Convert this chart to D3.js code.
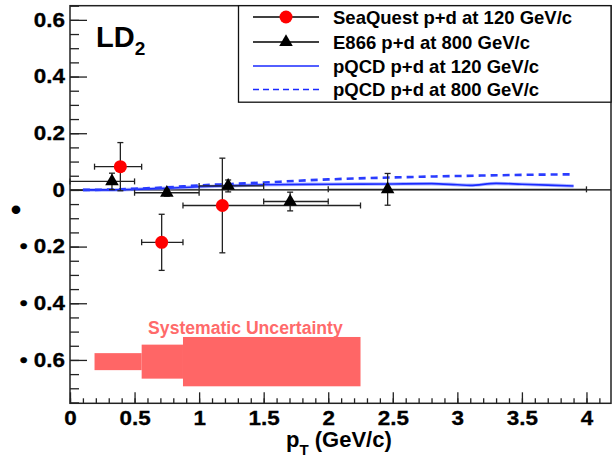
<!DOCTYPE html>
<html>
<head>
<meta charset="utf-8">
<script src="https://cdn.jsdelivr.net/npm/d3@7"></script>
<style>
  body { margin: 0; background: #fff; }
  svg { display: block; font-family: "Liberation Sans", Arial, sans-serif; }
</style>
</head>
<body>
<div id="chart"></div>
<script>
// SeaQuest p+d at 120 GeV/c
const seaX = [0.39, 0.71, 1.18];
const seaY = [0.082, -0.185, -0.055];
const seaXlo = [0.19, 0.555, 0.875];
const seaXhi = [0.555, 0.875, 2.25];
const seaErr = [0.085, 0.099, 0.167];

// E866 p+d at 800 GeV/c
const e866X = [0.325, 0.75, 1.225, 1.705, 2.46];
const e866Y = [0.03, -0.01, 0.014, -0.041, 0.002];
const e866Xlo = [0, 0.5, 1.0, 1.5, 2.0];
const e866Xhi = [0.5, 1.0, 1.5, 2.0, 4.0];
const e866Err = [0.029, 0.012, 0.021, 0.033, 0.056];

// pQCD curves
const qcd120X = [0.1, 0.3, 0.5, 0.75, 1.0, 1.25, 1.5, 2.0, 2.5, 2.8, 3.0, 3.1, 3.3, 3.5, 3.9];
const qcd120Y = [0, 0, 0.002, 0.006, 0.011, 0.015, 0.018, 0.02, 0.021, 0.022, 0.018, 0.016, 0.023, 0.02, 0.014];
const qcd800X = [0.1, 0.3, 0.5, 0.75, 1.0, 1.25, 1.5, 1.75, 2.0, 2.5, 3.0, 3.5, 3.9];
const qcd800Y = [0, 0.001, 0.004, 0.009, 0.016, 0.021, 0.026, 0.032, 0.037, 0.044, 0.049, 0.053, 0.055];

// systematic uncertainty band
const sysXlo = [0.19, 0.555, 0.875];
const sysXhi = [0.555, 0.875, 2.25];
const sysCenter = -0.606;
const sysHalf = [0.03, 0.06, 0.087];

const xTicks = [0, 0.5, 1, 1.5, 2, 2.5, 3, 3.5, 4];
const yTicks = [-0.6, -0.4, -0.2, 0, 0.2, 0.4, 0.6];

const legendLabels = [
    "SeaQuest p+d at 120 GeV/c",
    "E866 p+d at 800 GeV/c",
    "pQCD p+d at 120 GeV/c",
    "pQCD p+d at 800 GeV/c"
];

const width = 616;
const height = 462;
const plotLeft = 70, plotRight = 611, plotTop = 5.7, plotBottom = 403.3;

const x = d3.scaleLinear().domain([0, 4.19]).range([plotLeft, plotRight]);
const y = d3.scaleLinear().domain([-0.753, 0.65]).range([plotBottom, plotTop]);

const svg = d3.select("#chart")
    .append("svg")
    .attr("width", width)
    .attr("height", height)
    .attr("viewBox", [0, 0, width, height]);

svg.append("rect").attr("width", width).attr("height", height).attr("fill", "#fff");

// systematic band
svg.append("g")
    .selectAll("rect")
    .data(sysXlo)
    .join("rect")
    .attr("x", (d) => x(d))
    .attr("width", (d, i) => x(sysXhi[i]) - x(d))
    .attr("y", (d, i) => y(sysCenter + sysHalf[i]))
    .attr("height", (d, i) => y(sysCenter - sysHalf[i]) - y(sysCenter + sysHalf[i]))
    .attr("fill", "#ff6666");

svg.append("text")
    .attr("x", x(0.605))
    .attr("y", 334)
    .attr("fill", "#ff6a6a")
    .attr("font-size", 17.6)
    .attr("font-weight", "bold")
    .text("Systematic Uncertainty");

// zero line
svg.append("line")
    .attr("x1", plotLeft).attr("x2", plotRight)
    .attr("y1", y(0)).attr("y2", y(0))
    .attr("stroke", "#000")
    .attr("stroke-width", 1.3);

// axes
const tickColor = "#222";
const yMinor = d3.range(-0.75, 0.651, 0.05).map((v) => Math.round(v * 100) / 100);
svg.append("g")
    .attr("transform", `translate(${plotLeft},0)`)
    .call(d3.axisLeft(y).tickValues(yMinor).tickSizeInner(-9).tickSizeOuter(0).tickFormat(""))
    .call((g) => g.select(".domain").remove())
    .selectAll("line").attr("stroke", tickColor).attr("stroke-width", 1.3);

const yAxis = svg.append("g")
    .attr("transform", `translate(${plotLeft},0)`)
    .call(d3.axisLeft(y).tickValues(yTicks).tickSizeInner(-17).tickSizeOuter(0).tickPadding(5)
        .tickFormat((d) => d === 0 ? "0" : (d < 0 ? "\u2022 " + d3.format(".1f")(-d) : d3.format(".1f")(d))));
yAxis.select(".domain").remove();
yAxis.selectAll("line").attr("stroke", tickColor).attr("stroke-width", 1.3);

const xMinor = d3.range(0, 4.19, 0.1).map((v) => Math.round(v * 10) / 10);
svg.append("g")
    .attr("transform", `translate(0,${plotBottom})`)
    .call(d3.axisBottom(x).tickValues(xMinor).tickSizeInner(-5).tickSizeOuter(0).tickFormat(""))
    .call((g) => g.select(".domain").remove())
    .selectAll("line").attr("stroke", tickColor).attr("stroke-width", 1.3);

const xAxis = svg.append("g")
    .attr("transform", `translate(0,${plotBottom})`)
    .call(d3.axisBottom(x).tickValues(xTicks).tickSizeInner(-11).tickSizeOuter(0).tickPadding(8)
        .tickFormat((d) => d3.format("")(d)));
xAxis.select(".domain").remove();
xAxis.selectAll("line").attr("stroke", tickColor).attr("stroke-width", 1.3);

svg.selectAll(".tick text")
    .attr("font-size", 19.5)
    .attr("font-weight", "bold")
    .attr("font-family", "'Liberation Sans', Arial, sans-serif")
    .attr("fill", "#000")
    .attr("stroke", "#000")
    .attr("stroke-width", 0.3)
    .each(function () {
        const w = this.getComputedTextLength();
        d3.select(this).attr("textLength", w * 1.15).attr("lengthAdjust", "spacingAndGlyphs");
    });

// frame
svg.append("rect")
    .attr("x", plotLeft).attr("y", plotTop)
    .attr("width", plotRight - plotLeft).attr("height", plotBottom - plotTop)
    .attr("fill", "none")
    .attr("stroke", "#222")
    .attr("stroke-width", 1.5);

// pQCD lines
const line = d3.line().x((d) => x(d[0])).y((d) => y(d[1])).curve(d3.curveMonotoneX);

svg.append("path")
    .datum(qcd120X.map((v, i) => [v, qcd120Y[i]]))
    .attr("fill", "none")
    .attr("stroke", "#7f8cff")
    .attr("stroke-width", 3.5)
    .attr("stroke-opacity", 0.6)
    .attr("d", line);
svg.append("path")
    .datum(qcd120X.map((v, i) => [v, qcd120Y[i]]))
    .attr("fill", "none")
    .attr("stroke", "#1a2aff")
    .attr("stroke-width", 1.6)
    .attr("d", line);

svg.append("path")
    .datum(qcd800X.map((v, i) => [v, qcd800Y[i]]))
    .attr("fill", "none")
    .attr("stroke", "#2a3cff")
    .attr("stroke-width", 2.6)
    .attr("stroke-dasharray", "7,5")
    .attr("d", line);

// error bars
const errColor = "#222";
function errorBars(xs, ys, xlo, xhi, err) {
    const g = svg.append("g").attr("stroke", errColor).attr("stroke-width", 1.3);
    xs.forEach((xv, i) => {
        const cy = y(ys[i]);
        g.append("line").attr("x1", x(xlo[i])).attr("x2", x(xhi[i])).attr("y1", cy).attr("y2", cy);
        g.append("line").attr("x1", x(xlo[i])).attr("x2", x(xlo[i])).attr("y1", cy - 3).attr("y2", cy + 3);
        g.append("line").attr("x1", x(xhi[i])).attr("x2", x(xhi[i])).attr("y1", cy - 3).attr("y2", cy + 3);
        const t = y(ys[i] + err[i]), b = y(ys[i] - err[i]);
        g.append("line").attr("x1", x(xv)).attr("x2", x(xv)).attr("y1", t).attr("y2", b);
        g.append("line").attr("x1", x(xv) - 3).attr("x2", x(xv) + 3).attr("y1", t).attr("y2", t);
        g.append("line").attr("x1", x(xv) - 3).attr("x2", x(xv) + 3).attr("y1", b).attr("y2", b);
    });
}
errorBars(e866X, e866Y, e866Xlo, e866Xhi, e866Err);
errorBars(seaX, seaY, seaXlo, seaXhi, seaErr);

const tri = d3.symbol().type(d3.symbolTriangle).size(80);

svg.append("g")
    .selectAll("path")
    .data(e866X)
    .join("path")
    .attr("transform", (d, i) => `translate(${x(d)},${y(e866Y[i])})`)
    .attr("d", tri)
    .attr("fill", "#000");

svg.append("g")
    .selectAll("circle")
    .data(seaX)
    .join("circle")
    .attr("cx", (d) => x(d))
    .attr("cy", (d, i) => y(seaY[i]))
    .attr("r", 6.5)
    .attr("fill", "#ff0000");

// LD2 label
const ld = svg.append("text")
    .attr("x", 96)
    .attr("y", 46.7)
    .attr("font-size", 29)
    .attr("font-weight", "bold")
    .attr("fill", "#000");
ld.append("tspan").text("LD");
ld.append("tspan").attr("font-size", 19).attr("dy", 8).text("2");

// legend
const legend = svg.append("g");
legend.append("rect")
    .attr("x", 238.5).attr("y", plotTop)
    .attr("width", plotRight - 238.5).attr("height", 96.5)
    .attr("fill", "#fff")
    .attr("stroke", "#111")
    .attr("stroke-width", 1.3);

const rowY = [17, 42, 66, 89.5];
const legendStroke = ["#000", "#000", "#1a2aff", "#1a2aff"];
const legendDash = [null, null, null, "6,4"];
const legendWidth = [1.5, 1.5, 1.4, 1.4];

legendLabels.forEach((label, i) => {
    legend.append("line")
        .attr("x1", 253).attr("x2", 319)
        .attr("y1", rowY[i]).attr("y2", rowY[i])
        .attr("stroke", legendStroke[i])
        .attr("stroke-width", legendWidth[i])
        .attr("stroke-dasharray", legendDash[i]);
    legend.append("text")
        .attr("x", 333)
        .attr("y", rowY[i])
        .attr("dy", "0.36em")
        .attr("font-size", 18.5)
        .attr("font-weight", "bold")
        .attr("fill", "#000")
        .text(label);
});
legend.append("circle").attr("cx", 286).attr("cy", rowY[0]).attr("r", 6.5).attr("fill", "#ff0000");
legend.append("path").attr("transform", `translate(286,${rowY[1]})`).attr("d", tri).attr("fill", "#000");

// axis titles
const xt = svg.append("text")
    .attr("x", 286)
    .attr("y", 447)
    .attr("font-size", 22)
    .attr("font-weight", "bold")
    .attr("fill", "#000");
xt.append("tspan").text("p");
xt.append("tspan").attr("font-size", 15).attr("dy", 8).text("T");
xt.append("tspan").attr("dy", -8).text(" (GeV/c)");

svg.append("text")
    .attr("x", 16)
    .attr("y", 220)
    .attr("text-anchor", "middle")
    .attr("font-size", 30)
    .attr("font-weight", "bold")
    .attr("fill", "#000")
    .text("\u2022");
</script>
</body>
</html>
